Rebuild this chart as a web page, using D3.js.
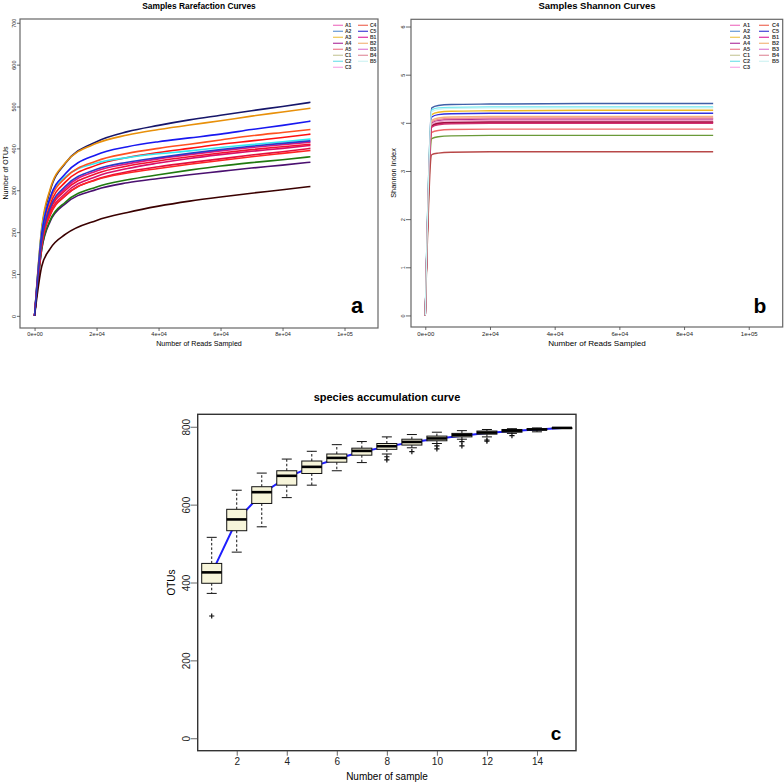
<!DOCTYPE html>
<html><head><meta charset="utf-8">
<script src="https://cdn.jsdelivr.net/npm/d3@7"></script>
<style>body{margin:0;background:#fff} svg{display:block} text{font-family:"Liberation Sans",Arial,Helvetica,sans-serif}</style>
</head><body><svg id="c" width="784" height="783"></svg>
<script>
// ---------- DATA ----------
const samples = ["A1","A2","A3","A4","A5","C1","C2","C3","C4","C5","B1","B2","B3","B4","B5"];
const rareReads = [0, 2300, 5000, 10000, 20000, 30000, 40000, 50000, 60000, 70000, 80000, 89000];
const otuA1 = [0,178,255,305,346,363,375,385,394,402,409,415];
const otuA2 = [0,204,298,365,416,440,455,468,479,490,500,510];
const otuA3 = [0,210,302,366,412,432,445,456,466,477,487,496];
const otuA4 = [0,158,225,268,302,318,328,337,345,353,360,367];
const otuA5 = [0,185,265,320,360,378,390,400,410,418,426,434];
const otuC1 = [0,160,228,272,308,325,337,348,358,366,373,380];
const otuC2 = [0,200,280,333,365,378,387,394,402,409,416,422];
const otuC3 = [0,172,245,293,333,352,365,376,385,393,400,407];
const otuC4 = [0,190,275,330,370,388,400,410,420,430,438,445];
const otuC5 = [0,195,282,340,385,404,416,425,434,445,455,465];
const otuB1 = [0,168,240,287,326,344,356,366,375,384,392,400];
const otuB2 = [0,170,242,288,325,341,352,362,371,380,388,395];
const otuB3 = [0,176,252,300,340,358,370,380,389,397,404,410];
const otuB4 = [0,118,160,195,228,247,262,274,284,293,301,309];
const otuB5 = [0,180,258,310,350,367,378,388,397,405,412,418];

const shannonReads = [0, 2000, 4000, 8000, 20000, 50000, 89000];
const shanA1 = [0,3.93,3.98,4.00,4.01,4.01,4.01];
const shanA2 = [0,4.31,4.36,4.38,4.39,4.40,4.40];
const shanA3 = [0,4.17,4.22,4.24,4.25,4.26,4.26];
const shanA4 = [0,4.00,4.05,4.07,4.08,4.08,4.08];
const shanA5 = [0,4.02,4.07,4.09,4.10,4.10,4.10];
const shanC1 = [0,3.67,3.71,3.73,3.74,3.74,3.74];
const shanC2 = [0,4.27,4.31,4.32,4.33,4.33,4.33];
const shanC3 = [0,3.97,4.02,4.04,4.05,4.05,4.05];
const shanC4 = [0,3.80,3.84,3.86,3.87,3.87,3.87];
const shanC5 = [0,4.12,4.17,4.19,4.20,4.20,4.20];
const shanB1 = [0,3.94,3.99,4.01,4.02,4.02,4.02];
const shanB2 = [0,4.05,4.10,4.12,4.13,4.13,4.13];
const shanB3 = [0,3.91,3.96,3.98,3.99,3.99,3.99];
const shanB4 = [0,3.34,3.37,3.39,3.40,3.40,3.40];
const shanB5 = [0,4.23,4.28,4.30,4.31,4.31,4.31];

const readTicks = [0, 20000, 40000, 60000, 80000, 100000];
const otuTicks = [0,100,200,300,400,500,600,700];
const shannonTicks = [0,1,2,3,4,5,6];

const sampleN = [1,2,3,4,5,6,7,8,9,10,11,12,13,14,15];
const whiskLow  = [372,478,543,618,650,687,708,730,746,757,768,774,783,787,797];
const boxQ1     = [398,533,603,650,680,709,727,742,753,764,774,781,786,792,797];
const boxMed    = [426,562,632,674,697,720,738,750,761,770,779,785,790,793,797];
const boxQ3     = [449,588,646,687,712,730,745,757,768,776,783,789,793,795,797];
const whiskHigh = [516,637,681,717,737,754,762,774,780,786,790,793,795,797,797];
const outlierN  = [1,8,8,9,10,10,11,11,12,12,13];
const outlierV  = [314,723,715,736,751,743,762,751,766,763,777];
const accumMean = [424,560,628,670,697,718,736,749,760,769,777,784,789,793,797];
const sampleTicks = [2,4,6,8,10,12,14];
const accumTicks = [0,200,400,600,800];

// ---------- STYLES ----------
const otuSeries = [otuA1,otuA2,otuA3,otuA4,otuA5,otuC1,otuC2,otuC3,otuC4,otuC5,otuB1,otuB2,otuB3,otuB4,otuB5];
const shanSeries = [shanA1,shanA2,shanA3,shanA4,shanA5,shanC1,shanC2,shanC3,shanC4,shanC5,shanB1,shanB2,shanB3,shanB4,shanB5];
const otuColors = ["#e0157e","#16166a","#e8900a","#4a1070","#ff1010","#207a10","#30e8f0","#d8106a","#ff5020","#1818f0","#e01040","#ff2424","#f01030","#3a0000","#2a3ac8"];
const shanColors = ["#c0104a","#4060a8","#f0b820","#b03090","#f08898","#6a9a38","#70e8f0","#f0a0c8","#f06868","#3030e0","#a01040","#f4b080","#d03070","#b84848","#c8f4f4"];
const legendColors = ["#f080c8","#70a0d8","#f0cc60","#b84aa8","#f08898","#cfcfa8","#80e4ec","#f8b0e8","#f07868","#5050d8","#e040a8","#f4bc88","#e088d8","#e49aa8","#d4f4f4"];

const svg = d3.select("#c");

function sciFmt(d){ if(d===0) return "0e+00"; const e=Math.floor(Math.log10(d)); const m=Math.round(d/Math.pow(10,e)); return m+"e+"+String(e).padStart(2,"0"); }

function styleAxis(g, fs){
  g.select(".domain").remove();
  g.selectAll(".tick line").attr("stroke","#444").attr("stroke-width",0.8);
  g.selectAll(".tick text").attr("fill","#222").style("font-size",fs+"px").style("font-family",'"Liberation Sans",Arial,sans-serif');
}
function rotateY(g, off){
  g.selectAll(".tick text").attr("transform","rotate(-90)").attr("x",0).attr("y",-off).attr("dy",0).attr("text-anchor","middle");
}

// ---------- PANEL A ----------
(function(){
  const x = d3.scaleLinear().domain([-4700,110800]).range([20,378]);
  const y = d3.scaleLinear().domain([-29,709]).range([328,19]);
  const g = svg.append("g");
  const line = d3.line().x((d,i)=>x(rareReads[i])).y(d=>y(d)).curve(d3.curveMonotoneX);
  otuSeries.forEach((s,i)=>{
    g.append("path").attr("d",line(s)).attr("fill","none").attr("stroke",otuColors[i]).attr("stroke-width",1.6);
  });
  g.append("rect").attr("x",20).attr("y",19).attr("width",358).attr("height",309).attr("fill","none").attr("stroke","#666").attr("stroke-width",1.2);
  const ax = g.append("g").attr("transform","translate(0,328)").call(d3.axisBottom(x).tickValues(readTicks).tickSize(3).tickPadding(1.5).tickFormat(sciFmt));
  styleAxis(ax,5.5);
  const ay = g.append("g").attr("transform","translate(20,0)").call(d3.axisLeft(y).tickValues(otuTicks).tickSize(3));
  styleAxis(ay,5.5); rotateY(ay,3.6);
  g.append("text").attr("x",199).attr("y",9).attr("text-anchor","middle").style("font-size","8.4px").style("font-weight","bold").text("Samples Rarefaction Curves");
  g.append("text").attr("x",199).attr("y",345.5).attr("text-anchor","middle").style("font-size","7.1px").text("Number of Reads Sampled");
  g.append("text").attr("transform","translate(7.5,173) rotate(-90)").attr("text-anchor","middle").style("font-size","7px").text("Number of OTUs");
  g.append("text").attr("x",357).attr("y",313).attr("text-anchor","middle").style("font-size","22px").style("font-weight","bold").text("a");
  samples.forEach((s,i)=>{
    const col = i<8?0:1, row = i<8?i:i-8;
    const lx = col===0?333:358, ly = 25.3+row*6;
    g.append("line").attr("x1",lx).attr("x2",lx+10).attr("y1",ly).attr("y2",ly).attr("stroke",legendColors[i]).attr("stroke-width",1.3);
    g.append("text").attr("x",lx+12).attr("y",ly+1.8).style("font-size","5px").style("font-weight","bold").attr("fill","#333").text(s);
  });
})();

// ---------- PANEL B ----------
(function(){
  const x = d3.scaleLinear().domain([-4420,110500]).range([411,782.7]);
  const y = d3.scaleLinear().domain([-0.24,6.15]).range([327,19.3]);
  const g = svg.append("g");
  const line = d3.line().x((d,i)=>x(shannonReads[i])).y(d=>y(d)).curve(d3.curveMonotoneX);
  shanSeries.forEach((s,i)=>{
    g.append("path").attr("d",line(s)).attr("fill","none").attr("stroke",shanColors[i]).attr("stroke-width",1.4);
  });
  g.append("rect").attr("x",411).attr("y",19.3).attr("width",371.7).attr("height",307.7).attr("fill","none").attr("stroke","#666").attr("stroke-width",1.2);
  const ax = g.append("g").attr("transform","translate(0,327)").call(d3.axisBottom(x).tickValues(readTicks).tickSize(3).tickPadding(1.8).tickFormat(sciFmt));
  styleAxis(ax,6);
  const ay = g.append("g").attr("transform","translate(411,0)").call(d3.axisLeft(y).tickValues(shannonTicks).tickSize(5).tickFormat(d3.format("d")));
  styleAxis(ay,5.5); rotateY(ay,6);
  g.append("text").attr("x",597).attr("y",9).attr("text-anchor","middle").style("font-size","9.5px").style("font-weight","bold").text("Samples Shannon Curves");
  g.append("text").attr("x",597).attr("y",346).attr("text-anchor","middle").style("font-size","8.1px").text("Number of Reads Sampled");
  g.append("text").attr("transform","translate(395.5,173) rotate(-90)").attr("text-anchor","middle").style("font-size","7.4px").text("Shannon Index");
  g.append("text").attr("x",760).attr("y",313).attr("text-anchor","middle").style("font-size","21px").style("font-weight","bold").text("b");
  samples.forEach((s,i)=>{
    const col = i<8?0:1, row = i<8?i:i-8;
    const lx = col===0?730:759, ly = 25.3+row*6;
    g.append("line").attr("x1",lx).attr("x2",lx+10).attr("y1",ly).attr("y2",ly).attr("stroke",legendColors[i]).attr("stroke-width",1.3);
    g.append("text").attr("x",lx+13).attr("y",ly+2).style("font-size","5.5px").style("font-weight","bold").attr("fill","#333").text(s);
  });
})();

// ---------- PANEL C ----------
(function(){
  const x = d3.scaleLinear().domain([0.44,15.56]).range([197.7,576]);
  const y = d3.scaleLinear().domain([-32,832]).range([750.7,414.3]);
  const g = svg.append("g");
  g.append("path").attr("d",d3.line().x((d,i)=>x(sampleN[i])).y(d=>y(d))(accumMean)).attr("fill","none").attr("stroke","#1e1eff").attr("stroke-width",2);
  sampleN.forEach((n,i)=>{
    g.append("line").attr("x1",x(n)).attr("x2",x(n)).attr("y1",y(boxQ3[i])).attr("y2",y(whiskHigh[i])).attr("stroke","#111").attr("stroke-width",1).attr("stroke-dasharray","2.5,2");
    g.append("line").attr("x1",x(n)).attr("x2",x(n)).attr("y1",y(boxQ1[i])).attr("y2",y(whiskLow[i])).attr("stroke","#111").attr("stroke-width",1).attr("stroke-dasharray","2.5,2");
    [whiskHigh[i],whiskLow[i]].forEach(v=>{
      g.append("line").attr("x1",x(n-0.2)).attr("x2",x(n+0.2)).attr("y1",y(v)).attr("y2",y(v)).attr("stroke","#111").attr("stroke-width",1);
    });
    g.append("rect").attr("x",x(n-0.4)).attr("width",x(n+0.4)-x(n-0.4)).attr("y",y(boxQ3[i])).attr("height",Math.max(0.5,y(boxQ1[i])-y(boxQ3[i]))).attr("fill","#f7f5da").attr("stroke","#111").attr("stroke-width",1);
    g.append("line").attr("x1",x(n-0.4)).attr("x2",x(n+0.4)).attr("y1",y(boxMed[i])).attr("y2",y(boxMed[i])).attr("stroke","#000").attr("stroke-width",2.6);
  });
  outlierN.forEach((n,i)=>{
    const cx = x(n), cy = y(outlierV[i]);
    g.append("path").attr("d",`M${cx-2.6},${cy}H${cx+2.6}M${cx},${cy-2.6}V${cy+2.6}`).attr("stroke","#111").attr("stroke-width",1.2);
  });
  g.append("rect").attr("x",197.7).attr("y",414.3).attr("width",378.3).attr("height",336.4).attr("fill","none").attr("stroke","#333").attr("stroke-width",1.4);
  const ax = g.append("g").attr("transform","translate(0,750.7)").call(d3.axisBottom(x).tickValues(sampleTicks).tickSize(5).tickPadding(2.5).tickFormat(d3.format("d")));
  styleAxis(ax,10);
  const ay = g.append("g").attr("transform","translate(197.7,0)").call(d3.axisLeft(y).tickValues(accumTicks).tickSize(7).tickFormat(d3.format("d")));
  styleAxis(ay,10); rotateY(ay,7.5);
  g.append("text").attr("x",387).attr("y",401).attr("text-anchor","middle").style("font-size","11px").style("font-weight","bold").text("species accumulation curve");
  g.append("text").attr("x",387).attr("y",780).attr("text-anchor","middle").style("font-size","10px").text("Number of sample");
  g.append("text").attr("transform","translate(174.5,582.5) rotate(-90)").attr("text-anchor","middle").style("font-size","10px").text("OTUs");
  g.append("text").attr("x",556).attr("y",740).attr("text-anchor","middle").style("font-size","19px").style("font-weight","bold").text("c");
})();
</script></body></html>
